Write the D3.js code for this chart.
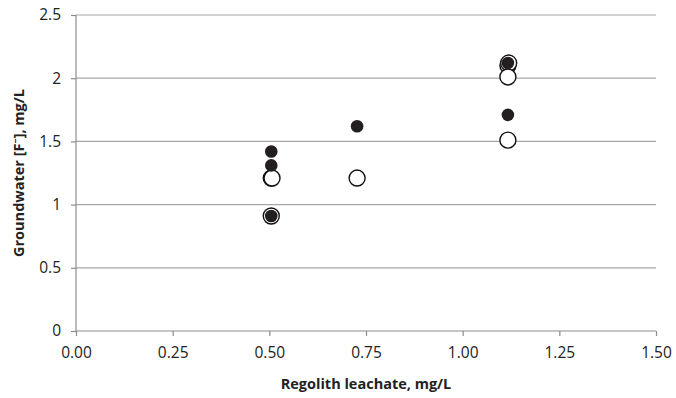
<!DOCTYPE html>
<html>
<head>
<meta charset="utf-8">
<script src="https://cdn.jsdelivr.net/npm/d3@7"></script>
<style>
  body { margin: 0; background: #fff; }
  svg text { font-family: "Open Sans", "Noto Sans", sans-serif; fill: #222; }
</style>
</head>
<body>
<svg width="676" height="398"></svg>
<script>
// regolith leachate (x) vs groundwater F (y)
const filledX = [0.505, 0.505, 0.505, 0.727, 1.117, 1.117];
const filledY = [1.42, 1.31, 0.91, 1.62, 2.12, 1.71];
const openX = [0.505, 0.507, 0.505, 0.727, 1.117, 1.119, 1.117, 1.117];
const openY = [1.21, 1.21, 0.91, 1.21, 2.10, 2.12, 2.01, 1.51];
const xTicks = [0, 0.25, 0.5, 0.75, 1.0, 1.25, 1.5];
const yTicks = [0, 0.5, 1, 1.5, 2, 2.5];

const svg = d3.select("svg");
const plotLeft = 76, plotRight = 656, plotTop = 15, plotBottom = 331;

var x = d3.scaleLinear().domain([0, 1.5]).range([plotLeft, plotRight]);
var y = d3.scaleLinear().domain([0, 2.5]).range([plotBottom, plotTop]);

// gridlines
svg.append("g").selectAll("line")
  .data(yTicks.slice(1))
  .enter().append("line")
  .attr("x1", plotLeft).attr("x2", plotRight)
  .attr("y1", d => y(d)).attr("y2", d => y(d))
  .style("stroke", "#a6a6a6").style("stroke-width", 1.2);

// y axis
var yAxis = svg.append("g")
  .attr("transform", `translate(${plotLeft},0)`)
  .call(d3.axisLeft(y).tickValues(yTicks).tickSize(5).tickPadding(10).tickFormat(d3.format("")));
yAxis.selectAll("path,line").style("stroke", "#8c8c8c").style("stroke-width", 1.2);
yAxis.selectAll("text").style("font-size", "15.5px");
yAxis.select(".domain").attr("d", `M0,${plotBottom}V${plotTop}`);

// x axis
var xAxis = svg.append("g")
  .attr("transform", `translate(0,${plotBottom})`)
  .call(d3.axisBottom(x).tickValues(xTicks).tickSize(5).tickPadding(11).tickFormat(d3.format(".2f")));
xAxis.selectAll("path,line").style("stroke", "#8c8c8c").style("stroke-width", 1.2);
xAxis.selectAll("text").style("font-size", "15.5px");
xAxis.select(".domain").attr("d", `M${plotLeft},0H${plotRight}`);

// open circles
svg.append("g").selectAll("circle")
  .data(openX.map((d, i) => [d, openY[i]]))
  .enter().append("circle")
  .attr("cx", d => x(d[0])).attr("cy", d => y(d[1]))
  .attr("r", 8)
  .style("fill", "#fff").style("stroke", "#111").style("stroke-width", 1.4);

// filled dots
svg.append("g").selectAll("circle")
  .data(filledX.map((d, i) => [d, filledY[i]]))
  .enter().append("circle")
  .attr("cx", d => x(d[0])).attr("cy", d => y(d[1]))
  .attr("r", 6.3)
  .style("fill", "#231f20");

// titles
svg.append("text")
  .attr("x", 366).attr("y", 389)
  .attr("text-anchor", "middle")
  .style("font-size", "14.5px").style("font-weight", "bold")
  .text("Regolith leachate, mg/L");

svg.append("text")
  .attr("transform", `translate(24,${(plotTop + plotBottom) / 2}) rotate(-90)`)
  .attr("text-anchor", "middle")
  .style("font-size", "14.5px").style("font-weight", "bold")
  .text("Groundwater [F\u207B], mg/L");
</script>
</body>
</html>
